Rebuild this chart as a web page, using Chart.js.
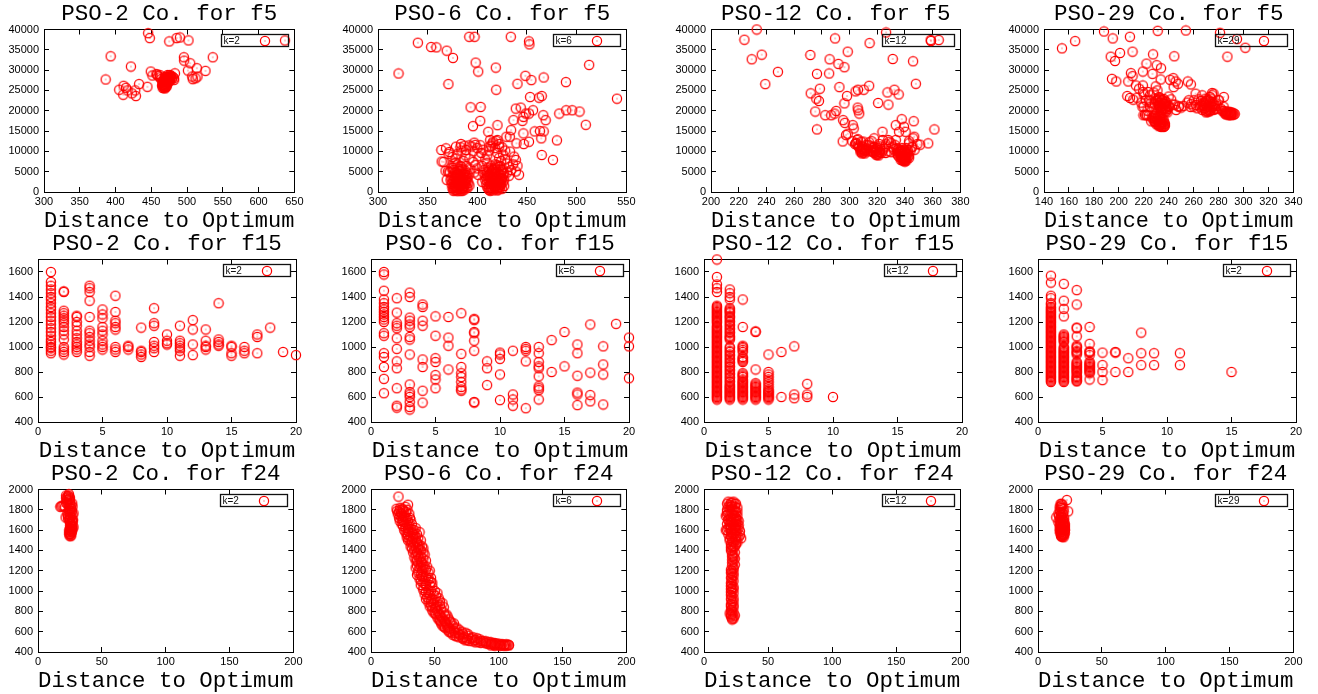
<!DOCTYPE html>
<html><head><meta charset="utf-8">
<script src="https://cdn.jsdelivr.net/npm/chart.js@4/dist/chart.umd.min.js"></script>
<style>
html,body{margin:0;padding:0;background:#fff;width:1318px;height:694px;overflow:hidden;position:relative}
.p{position:absolute}
</style></head><body>
<script>
// ---------- data: [distance to optimum, fitness] ----------
const f5_pso2 = [[445.6,39100],[447.9,37880],[475.2,37070],[485.4,37880],[490,38040],[502,37310],[637,37300],[393.2,33400],[536,33160],[386.2,27700],[421.5,30880],[495.6,33160],[496,32340],[504.4,31690],[513.7,30470],[501.2,29900],[525.8,29820],[449.3,29650],[451.6,28680],[457.2,29000],[462.3,28760],[477,28350],[481.7,28000],[507.2,28430],[511.9,28000],[508,27780],[514.6,28430],[405.2,25170],[411.3,26150],[414.6,25660],[416.8,25000],[410.8,23950],[422.8,24280],[428.4,23620],[433,26560],[444.6,25900],[427.5,25010],
[466,25600],[467,26000],[468,26400],[466,26800],[469,27200],[470,27600],[471,28000],[472,28400],[473,28800],[474,28200],[475,27800],[476,27400],[468,27000],[470,26600],[472,26200],[467,25800],[469,25500],[471,26900],[473,27300],[474,27700],[475,28500],[477,28100],[478,28600],[479,27900],[480,28300],[466,27300],[465,26200],[470,25800],[472,27000],[476,28800],[469,28300],[464,27800],[462,28200],[460,28600],[458,28900],[483,29200],[482,27600],
[467,26300],[468,25700],[469,26700],[470,27100],[471,27400],[472,27900],[473,28100],[474,27400],[470,26100],[468,26000],[466,26500],[467,27200],[469,27800],[471,28300],[473,27000],[475,27200],[476,28000],[477,28400],[471,25900],[469,26200]];

const f5_pso6 = [[320.7,29170],[340.1,36740],[353.5,35680],[358.8,35600],[369.2,34790],[375.5,33000],[370.9,26560],[391.9,38210],[397.2,38210],[433.7,38210],[452,37070],[452.4,36340],[398.3,31850],[400.9,29650],[418.6,30630],[393.2,20860],[403.3,20940],[402.9,17520],[395.6,16210],[419,25170],[440.4,26640],[448.4,28600],[454.4,27540],[466.8,28190],[489.2,27050],[512.6,31280],[540.6,22970],[453.1,23380],[462.1,23220],[464.8,23630],[456.1,20120],[452,19310],[466.4,18900],[468.8,17680],[438.7,20530],[443.7,20770],[448.7,19310],[446.4,18490],[436.4,17680],[445.4,17520],[420.3,16460],[411,14830],[429.3,13600],[434,15230],[432.7,13600],[439.4,11980],[446.4,14420],[452,12380],[457.7,14910],[463.1,14990],[464.4,13200],[466.8,14910],[446.7,11810],[489.5,20120],[495.5,20120],[502.9,19800],[482.5,19310],[509.2,16540],[480.1,12710],[464.8,9120],[476.1,7900],[420.3,12790],[415.3,11980],[422,11160],[412,11160],[433,9940],[437,8720],[438.7,7900],[440.4,6440],[438.7,5050],[442,4240],[363.8,10350],[368.5,10750],[364.1,7500],[371.9,9860],[378.5,11160],[383.6,11810],[391.9,11490],[396.9,12140],[388.6,10350],[369.2,3010],[370.3,5050],[375.2,5870],
[376,600],[378,1200],[380,1800],[382,2400],[384,3000],[386,3600],[388,4200],[379,500],[381,900],[383,1500],[385,2100],[387,2700],[377,3300],[379,3900],[381,4500],[383,5100],[385,5700],[375,1000],[374,2000],[376,2800],[378,3600],[380,4400],[382,5200],[384,800],[386,1400],[388,2000],[390,2600],[389,3400],[391,4000],[387,4800],[385,600],[383,300],[380,200],[377,1600],[375,4000],[373,3000],[372,5000],[390,1000],[392,1600],[384,6200],[380,6800],[378,7200],[382,3800],[379,2500],[381,3200],[383,2200],[385,1000],
[376,300],[377,900],[378,1500],[379,2100],[380,2700],[381,3300],[382,3900],[383,4500],[384,5100],[385,300],[386,900],[387,1500],[388,2400],[389,3000],[390,3600],[378,400],[380,1000],[382,1100],[384,1700],[386,2300],[388,2900],[377,2200],[379,2800],[381,2000],[383,2600],[385,3200],[387,3800],[379,4200],[381,5600],[383,6400],[376,5400],[378,4800],[380,3500],[382,1600],[384,2000],[386,4400],[388,5200],[390,4600],[374,3500],[375,2400],[376,1300],[377,4600],[389,1200],[391,2200],[387,600],[382,700],[380,2300],[384,4000],
[412,500],[414,1100],[416,1700],[418,2300],[420,2900],[422,3500],[424,4100],[413,300],[415,900],[417,1500],[419,2100],[421,2700],[423,3300],[411,3900],[413,4500],[415,5100],[417,5700],[410,1200],[409,2000],[408,3000],[410,4000],[412,2600],[414,3200],[416,3800],[418,4400],[420,5000],[422,1200],[424,1800],[426,2400],[425,3200],[427,4600],[421,600],[419,800],[416,400],[411,6000],[414,6500],[418,6800],[421,6200],[424,5600],[406,4800],[405,2500],[420,1800],[417,2900],[415,3600],[413,2000],[419,3700],[423,900],
[412,1300],[413,1900],[414,2500],[415,3100],[416,3700],[417,4300],[418,4900],[419,5500],[420,400],[421,1000],[422,1600],[423,2200],[424,2800],[425,3400],[426,4000],[411,800],[410,2600],[409,3500],[410,5000],[412,4200],[414,4800],[416,5400],[418,6000],[420,6600],[422,4500],[424,5000],[426,5500],[423,6400],[413,3600],[415,2300],[417,1200],[419,1500],[421,2200],[423,1800],[425,800],[427,1500],[427,3000],[414,700],[416,2700],[418,3200],[420,3800],[422,2600],[418,1000],[415,5800],[412,5500],[408,4000],
[368,5200],[372,4800],[374,6000],[376,7000],[378,8200],[380,9400],[384,10200],[388,9000],[392,8200],[396,7400],[398,6600],[400,5800],[402,8800],[404,9600],[406,10400],[408,8000],[410,7200],[396,10000],[394,11200],[398,11600],[400,10800],[403,11500],[386,7600],[389,6400],[393,5600],[397,4800],[401,4200],[405,6400],[407,5400],[410,9000],[412,10200],[414,11400],[416,12400],[418,10800],[420,9600],[422,8400],[424,7600],[426,9200],[428,8000],[430,7000],[432,6200],[430,4800],[432,4000],[434,5400],[436,6800],[428,10200],[425,11000],[419,12600],[413,12800],[422,11800],[375,8600],[371,9400],[366,7400],[383,11000],[387,11400]];

const f5_pso12 = [[224.1,37480],[233,40000],[229.4,32670],[236.6,33810],[239.2,26560],[248.3,29570],[271.7,33730],[272,24280],[278.6,25420],[276.5,29080],[285.3,29170],[285.6,32670],[289.6,37800],[292,31530],[292.7,25830],[296.3,30710],[298.7,34540],[298.2,23630],[276,22970],[277.9,22400],[275.3,19800],[276.5,15400],[282.5,18900],[286.8,18900],[289.2,19310],[290.4,19960],[296.3,21830],[295.4,17680],[296.6,17030],[295.1,12460],[297.5,14010],[298.7,14340],[302.3,16460],[303,15640],[304.4,24770],[306.1,25170],[306.3,20120],[307,19310],[305.9,20770],[310.2,25170],[314.2,26150],[314.5,36660],[326.4,39270],[331.2,32750],[332.4,25170],[327.4,24520],[328.1,21510],[320.7,21910],[335.5,24030],[345.9,32180],[347.9,26640],[346.3,17430],[337.7,17920],[333.4,16460],[339.3,16050],[335.8,14830],[340.5,14830],[346.7,13600],[351,11650],[356.8,11980],[361.3,15400],[323.8,14830],[317.8,13200],[305.6,12790],[308.3,12380],[314.2,12220],[316.6,11160],[321.4,11810],[326.2,11730],[328.6,12380],[331,11160],[333.4,12790],[345.3,11160],[342.9,11980],[307,11160],[310.7,10750],[304.7,11980],[364.4,37400],[358.6,37400],
[307,11000],[308,10500],[309,10000],[310,9700],[311,10200],[312,10700],[309,11200],[310,10400],[308,9800],[311,9500],[313,10000],[306,11400],[312,11600],[305,12000],[310,12400],
[308,10200],[309,10600],[310,11000],[311,10000],[309,9500],[312,10300],[318,9600],[319,10100],[320,10400],[321,9500],[320,9100],[317,9900],[322,9800],[319,10600],
[317,10800],[318,10300],[319,9800],[320,9400],[321,9900],[322,10400],[318,11100],[320,10800],[319,9200],[321,9000],[323,9600],[316,10000],[322,11200],[324,10200],
[336,10500],[337,10000],[338,9500],[339,9000],[340,8500],[341,8000],[339,7600],[338,8200],[337,8800],[336,9400],[340,9800],[341,9200],[342,8600],[343,9000],[338,10800],[339,10300],[335,9900],[334,10800],[340,7800],[342,9800],[344,10200],[341,10800],[338,7900],[336,8600],[339,8400],
[335,9000],[336,9800],[337,9300],[338,8800],[339,8100],[340,9100],[341,8600],[342,9400],[337,10300],[338,10100],[339,9700],[340,10200],[341,9600],[339,8700],[340,8000],[338,8500],[337,7900],[336,10000],[342,10300],[343,8400],[335,10400],[334,9500],[341,7700],[340,7500],[339,7800],
[302,12500],[304,11800],[306,13000],[314,11500],[316,12500],[324,12800],[326,11200],[328,10000],[330,9800],[332,10500],[330,12000],[333,11500],[326,9600],[328,12800],[345,11000],[347,10400],[349,11800],[343,12500],[346,13200]];

const f5_pso29 = [[154.4,35360],[165,37150],[188.1,39510],[195.1,37800],[208.9,38210],[231.2,39680],[253.8,39760],[281.2,39190],[294.8,37640],[301.5,35520],[287.1,33320],[193.5,33320],[197,32260],[201,34220],[211,34540],[227.5,33890],[244.5,33400],[222.2,31610],[230.4,31200],[233.9,30470],[219.3,29650],[209.7,29250],[211,28510],[227,29080],[194.5,27860],[198,27210],[207.6,27210],[233.6,27700],[241.1,27620],[243.7,28020],[245.6,27210],[247.5,26640],[244,25830],[255.4,27210],[257.8,26480],[213.7,26230],[216.3,25420],[219.3,26230],[229.6,25990],[206.8,23630],[209,23140],[211.6,22730],[214.5,23220],[219.5,24600],[223.5,24600],[221.7,22570],[219,20940],[219.8,18900],[222.5,18900],[224.3,22570],[229.6,22970],[232.3,23380],[234.9,22570],[237.6,21750],[240.3,21100],[243.7,21510],[248.3,21100],[257.6,20940],[260.2,22570],[261.6,24200],[266.9,23790],[269.5,22970],[274.9,24360],[284.2,23380],[280.2,22570],[256.2,22570],
[228,17500],[229,18000],[230,17200],[231,16800],[232,17600],[233,16400],[234,16900],[235,16200],[236,16600],[237,16300],[233,17900],[231,18300],[229,18800],[227,18200],[226,17400],[235,17300],[236,17700],[234,18400],[232,18700],[230,19200],[224,18800],[222,19000],[234,16000],[236,16000],
[229,17200],[230,16700],[231,17500],[232,16500],[233,17100],[234,16500],[235,16800],[236,16200],[237,16800],[235,17900],[233,18600],[231,17900],[232,16200],[234,17300],[236,17200],[230,18300],[228,18600],
[231,21000],[232,21500],[233,22000],[234,22500],[235,21800],[236,21200],[237,20600],[238,20000],[239,20400],[237,21600],[235,20200],[233,20700],[240,21000],[238,22200],[236,22900],[232,23200],[230,22400],[229,21600],[228,20800],[234,19600],[239,19600],[226,22000],[225,21000],
[232,22000],[233,21300],[234,21000],[235,20700],[236,20400],[237,20100],[238,20800],[239,21200],[236,21700],[234,20200],[237,22300],[235,22700],[238,19800],[231,22700],[233,23000],
[265,21000],[267,21500],[269,22000],[271,21000],[272,20200],[273,20800],[274,21600],[275,22200],[276,21200],[277,20600],[270,20000],[268,20600],[266,22400],[271,22800],[273,23400],[275,23800],[278,21800],[280,22600],[262,21400],[264,22800],[270,19600],[272,19800],[278,20400],[279,21200],[276,24200],
[266,21300],[268,21200],[269,20600],[270,21500],[271,20500],[272,21300],[273,22100],[274,20300],[275,20900],[276,21700],[277,21300],[270,22400],[268,22000],[272,22600],[274,23000],[267,20200],[271,19800],[273,19900],[276,20200],
[285,19600],[286,19400],[287,19200],[288,19500],[289,19000],[290,19300],[291,19100],[292,19400],[289,19700],[287,19800],[284,19900],[290,18900],[293,19200],[288,18900],[283,20000],
[286,19800],[287,19500],[288,19200],[289,19400],[290,19600],[291,19500],[292,19000],[286,19100],[285,19300],
[245,21500],[248,21000],[250,20800],[252,21200],[255,22000],[258,21600],[260,21000],[263,20600],[282,20500],[284,21000],[240,23500],[242,22800],[246,20200],[218,22000],[220,21000],[221,19000],[223,20000],[225,23800],[228,24500],[231,25000],[220,24000]];

const f15_pso2 = [[1,1600],[1,1520],[1,1490],[1,1460],[1,1430],[1,1400],[1,1380],[1,1350],[1,1320],[1,1300],[1,1270],[1,1240],[1,1210],[1,1180],[1,1150],[1,1120],[1,1090],[1,1060],[1,1040],[1,1020],[1,1000],[1,990],[1,970],[1,950],
[2,1445],[2,1440],[2,1290],[2,1270],[2,1250],[2,1230],[2,1210],[2,1190],[2,1160],[2,1130],[2,1100],[2,1060],[2,1000],[2,980],[2,960],[2,940],
[3,1250],[3,1240],[3,1200],[3,1170],[3,1130],[3,1100],[3,1070],[3,1040],[3,1020],[3,1000],[3,980],[3,960],
[4,1490],[4,1470],[4,1440],[4,1370],[4,1240],[4,1130],[4,1110],[4,1080],[4,1050],[4,1020],[4,1000],[4,960],[4,930],
[5,1300],[5,1260],[5,1230],[5,1160],[5,1130],[5,1100],[5,1050],[5,1020],[5,1000],[5,980],
[6,1410],[6,1280],[6,1210],[6,1190],[6,1160],[6,1140],[6,1000],[6,980],[6,960],
[7,1010],[7,1000],[7,980],[8,1155],[8,970],[8,960],[8,940],[8,920],
[9,1310],[9,1190],[9,1170],[9,1040],[9,1010],[9,990],[9,960],
[10,1100],[10,1050],[10,1030],[10,1020],
[11,1170],[11,1050],[11,1030],[11,1010],[11,990],[11,970],[11,930],
[12,1215],[12,1140],[12,1020],[12,935],[13,1140],[13,1050],[13,1010],[13,1000],[13,980],
[14,1350],[14,1060],[14,1040],[14,1020],[14,1010],[15,1010],[15,1000],[15,950],[15,930],
[16,1000],[16,970],[16,950],[17,1100],[17,1080],[17,950],[18,1155],[19,960],[20,935]];

const f15_pso6 = [[1,1600],[1,1580],[1,1450],[1,1380],[1,1350],[1,1320],[1,1300],[1,1280],[1,1260],[1,1240],[1,1220],[1,1200],[1,1110],[1,1090],[1,950],[1,920],[1,840],[1,745],[1,630],
[2,1390],[2,1275],[2,1190],[2,1170],[2,1150],[2,1070],[2,985],[2,885],[2,830],[2,670],[2,530],[2,515],
[3,1435],[3,1400],[3,1235],[3,1210],[3,1180],[3,1160],[3,1080],[3,1060],[3,940],[3,700],[3,640],[3,620],[3,600],[3,560],[3,520],[3,500],
[4,1340],[4,1320],[4,1210],[4,1170],[4,900],[4,840],[4,650],[4,555],
[5,1245],[5,1090],[5,910],[5,880],[5,775],[5,740],[5,670],
[6,1240],[6,1075],[6,1010],[6,820],
[7,1270],[7,945],[7,840],[7,790],[7,760],[7,720],[7,680],[7,660],[7,650],
[8,1225],[8,1215],[8,1120],[8,1110],[8,1050],[8,970],[8,560],[8,555],
[9,885],[9,830],[9,695],[10,955],[10,940],[10,905],[10,780],[10,575],
[11,970],[11,620],[11,580],[11,530],[12,1000],[12,985],[12,970],[12,885],[12,510],
[13,1000],[13,950],[13,880],[13,845],[13,830],[13,765],[13,685],[13,670],[13,655],[13,580],
[14,1055],[14,800],[15,1120],[15,845],[16,1020],[16,950],[16,770],[16,635],[16,620],[16,535],
[17,1180],[17,795],[17,615],[17,565],[18,1005],[18,860],[18,780],[18,540],[19,1185],[20,1075],[20,1005],[20,750]];

const f15_pso12 = [[1,1700],[1,1560],[1,1500],[1,1470],[1,1440],[1,1330],[1,1310],[1,1290],[1,1270],[1,1250],[1,1220],[1,1200],[1,1170],[1,1150],[1,1120],[1,1100],[1,1070],[1,1040],[1,1010],[1,990],[1,960],[1,940],[1,910],[1,880],[1,860],[1,830],[1,810],[1,790],[1,760],[1,740],[1,720],[1,700],[1,680],[1,660],[1,640],[1,620],[1,600],[1,590],[1,580],
[1,1320],[1,1300],[1,1280],[1,1260],[1,1240],[1,1230],[1,1210],[1,1190],[1,1160],[1,1140],[1,1130],[1,1110],[1,1090],[1,1080],[1,1060],[1,1050],[1,1030],[1,1020],[1,1000],[1,980],[1,970],[1,950],[1,930],[1,920],[1,900],[1,890],[1,870],[1,850],[1,840],[1,820],[1,800],[1,780],[1,770],[1,750],[1,730],[1,710],[1,690],[1,670],[1,650],[1,630],[1,610],
[2,1460],[2,1430],[2,1400],[2,1380],[2,1310],[2,1290],[2,1270],[2,1240],[2,1210],[2,1180],[2,1150],[2,1120],[2,1090],[2,1060],[2,1000],[2,970],[2,940],[2,910],[2,880],[2,850],[2,820],[2,790],[2,760],[2,730],[2,700],[2,680],[2,660],[2,640],[2,620],[2,600],[2,580],
[2,1300],[2,1280],[2,1250],[2,1230],[2,1200],[2,1170],[2,1140],[2,1110],[2,1080],[2,1070],[2,990],[2,960],[2,930],[2,900],[2,870],[2,840],[2,810],[2,780],[2,750],[2,720],[2,690],[2,670],[2,650],[2,630],[2,610],[2,590],
[3,1380],[3,1160],[3,1010],[3,990],[3,960],[3,920],[3,900],[3,880],[3,790],[3,770],[3,740],[3,710],[3,690],[3,670],[3,650],[3,630],[3,610],[3,590],[3,580],
[3,1000],[3,975],[3,910],[3,890],[3,780],[3,760],[3,730],[3,720],[3,700],[3,680],[3,660],[3,640],[3,620],[3,600],
[4,1125],[4,1120],[4,820],[4,710],[4,690],[4,670],[4,650],[4,630],[4,610],[4,590],[4,580],[4,700],[4,680],[4,660],[4,640],[4,620],[4,600],
[5,940],[5,800],[5,760],[5,700],[5,660],[5,640],[5,620],[5,600],[5,590],[5,580],[5,780],[5,740],[5,720],[5,680],[5,650],[5,630],[5,610],
[6,960],[6,600],[7,1005],[7,620],[7,590],[8,705],[8,620],[8,600],[10,600]];

const f15_pso29 = [[1,1570],[1,1515],[1,1410],[1,1390],[1,1350],[1,1320],[1,1300],[1,1280],[1,1250],[1,1230],[1,1200],[1,1180],[1,1150],[1,1120],[1,1100],[1,1080],[1,1050],[1,1020],[1,1000],[1,980],[1,960],[1,940],[1,920],[1,900],[1,880],[1,860],[1,840],[1,820],[1,800],[1,780],[1,760],[1,740],[1,720],
[1,1340],[1,1310],[1,1290],[1,1270],[1,1260],[1,1240],[1,1220],[1,1210],[1,1190],[1,1170],[1,1160],[1,1140],[1,1130],[1,1110],[1,1090],[1,1070],[1,1060],[1,1040],[1,1030],[1,1010],[1,990],[1,970],[1,950],[1,930],[1,910],[1,890],[1,870],[1,850],[1,830],[1,810],[1,790],[1,770],[1,750],[1,730],
[2,1505],[2,1370],[2,1305],[2,1245],[2,1100],[2,1080],[2,1060],[2,1040],[2,1000],[2,980],[2,960],[2,940],[2,920],[2,900],[2,880],[2,860],[2,840],[2,820],[2,800],[2,780],[2,760],[2,740],[2,720],
[2,1090],[2,1070],[2,1050],[2,990],[2,970],[2,950],[2,930],[2,910],[2,890],[2,870],[2,850],[2,830],[2,810],[2,790],[2,770],[2,750],[2,730],
[3,1455],[3,1340],[3,1155],[3,1150],[3,1085],[3,1010],[3,990],[3,960],[3,940],[3,880],[3,860],[3,840],[3,820],[3,800],[3,760],[3,740],[3,725],
[3,1000],[3,970],[3,950],[3,870],[3,850],[3,830],[3,810],[3,790],[3,770],[3,750],[3,730],
[4,1160],[4,1025],[4,965],[4,955],[4,935],[4,880],[4,860],[4,840],[4,820],[4,800],[4,790],[4,740],[4,960],[4,870],[4,850],[4,830],[4,810],
[5,955],[5,855],[5,800],[5,735],[6,960],[6,955],[6,800],[7,910],[7,800],[8,1115],[8,950],[8,855],[9,950],[9,855],[11,950],[11,855],[15,800]];

const f24_pso2 = [[18.2,1834],[17.5,1830],[19,1840],[23.4,1938],[24.2,1954],[22,1915],[23,1925],[24,1940],[25,1920],[26.8,1863],[26,1808],[25,1790],[27.8,1765],[27,1750],[24.7,1726],[23.5,1720],[26.8,1687],[26,1670],[25.2,1645],[27.8,1629],[26.5,1615],[26,1590],[25.5,1575],[24.7,1547],[25.5,1563],[26.8,1612],[23.4,1743],[21.6,1726],[25,1680],[27,1650],[26,1600],[24.5,1560],[25.5,1540],[26.5,1640],[27.5,1700],[26,1770],[24,1850],[22.5,1900],
[20,1840],[21,1830],[22,1870],[23,1880],[24,1900],[25,1890],[26,1850],[27,1830],[25,1860],[23,1860],[22,1940],[24.5,1910],[25.5,1820],[26.5,1790],[24,1780],[23,1760],[25,1750],[26,1730],[24,1700],[25,1710],[26.5,1700],[27,1680],[25.5,1660],[26,1630],[27,1610],[25,1620],[24.5,1600],[25.5,1590],[26.5,1580],[25,1560],[24.5,1580],[26,1550],[25.5,1610]];

const f24_pso6 = [[21.5,1930],[20,1810],[22,1780],[23,1820],[25,1800],[27,1830],[29,1850],[24,1760],[26,1740],[22,1720],[25,1700],[28,1720],[30,1760],[31,1700],[24,1660],[27,1650],[29,1620],[32,1660],[33,1600],[26,1600],[28,1560],[30,1580],[34,1550],[36,1560],[38,1580],[29,1500],[31,1480],[33,1520],[35,1490],[37,1460],[39,1500],[40,1440],[32,1420],[34,1400],[36,1380],[38,1410],[41,1380],[42,1360],[34,1330],[36,1300],[38,1320],[40,1280],[43,1300],[35,1230],[37,1200],[39,1250],[41,1220],[44,1240],[46,1200],[36,1160],[38,1120],[40,1140],[42,1100],[45,1130],[47,1090],[39,1060],[41,1030],[43,1050],[45,1010],[48,1040],[50,1000],[42,970],[44,940],[46,960],[48,920],[51,950],[53,930],[45,890],[47,860],[49,880],[51,840],[54,860],[56,880],[48,810],[50,780],[52,800],[54,760],[57,790],[59,770],[52,740],[54,710],[56,730],[58,700],[61,720],[63,690],[55,680],[57,650],[59,670],[61,640],[64,660],[67,640],[60,620],[62,600],[65,610],[68,590],[71,600],[74,590],[64,570],[67,555],[70,565],[73,550],[76,560],[80,545],[72,530],[75,520],[78,530],[82,520],[85,525],[88,510],[80,505],[84,500],[88,495],[92,500],[95,490],[90,485],[94,480],[98,482],[100,475],[103,478],[105,470],[107,472],[99,468],[102,465],[96,470],[108,465],[104,462],
[20.5,1790],[21,1760],[22.5,1800],[23.5,1770],[24.5,1810],[26,1790],[27.5,1780],[28.5,1800],[23,1740],[25.5,1730],[27,1700],[29,1690],[30.5,1720],[22.5,1690],[24,1700],[26,1680],[28,1660],[30,1650],[25,1640],[27,1620],[29,1590],[31,1610],[32,1580],[34,1600],[35,1620],[27,1580],[29,1550],[31,1540],[33,1560],[35,1530],[37,1520],[28,1530],[30,1510],[32,1490],[34,1470],[36,1480],[38,1450],[31,1440],[33,1450],[35,1430],[37,1420],[39,1400],[41,1420],[33,1380],[35,1360],[37,1350],[39,1340],[41,1320],[35,1300],[37,1280],[39,1290],[41,1260],[42,1240],[36,1250],[38,1230],[40,1200],[43,1210],[45,1180],[37,1180],[39,1160],[41,1150],[43,1140],[45,1110],[47,1130],[39,1100],[41,1080],[43,1070],[46,1060],[48,1080],[41,1010],[43,990],[45,980],[47,1000],[49,970],[52,980],[43,920],[45,920],[47,900],[49,910],[52,890],[54,900],[46,850],[48,840],[50,830],[52,850],[55,820],[57,840],[49,790],[51,770],[53,780],[55,750],[58,760],[60,750],[53,720],[55,700],[57,710],[59,690],[62,700],[65,680],[56,660],[58,640],[60,650],[62,630],[66,630],[69,620],[61,600],[63,590],[66,590],[69,575],[72,580],[76,575],[66,560],[69,545],[72,540],[75,535],[79,540],[83,535],[74,515],[77,510],[81,515],[86,510],[90,505],[82,495],[86,490],[90,492],[94,495],[97,488],[92,478],[96,478],[100,482],[102,472],[106,476],[108,470],[101,462],[104,468],[106,462],[97,462],[94,465]];

const f24_pso12 = [[18,1800],[20,1850],[22,1870],[24,1860],[21,1830],[23,1800],[25,1780],[19,1760],[17,1740],[21,1720],[24,1700],[26,1740],[27,1650],[28,1550],[22,1680],[20,1650],[18,1600],[23,1620],[25,1600],[21,1580],[24,1560],[26,1540],[22,1520],[25,1500],[23,1480],[21,1460],[24,1440],[22,1400],[23,1350],[24,1320],[22,1280],[23,1230],[22,1200],[21,1180],[23,1150],[22,1110],[21,1080],[23,1040],[22,1000],[21,960],[23,930],[22,900],[21,870],[23,840],[22,800],[21,770],[23,750],[22,730],[21,1020],[22,1340],[20,1500],[19,1700],[26,1660],[25,1680],[20,1620],[18,1780],[23,1750],[22,1560],[24,1600],[21,1620],
[18,1860],[19,1880],[21,1870],[23,1880],[25,1860],[19,1830],[22,1840],[24,1830],[26,1820],[20,1800],[22,1810],[24,1790],[26,1780],[18,1750],[20,1740],[22,1760],[24,1740],[25,1720],[19,1700],[21,1690],[23,1700],[25,1710],[26,1700],[27,1690],[17,1600],[19,1620],[21,1640],[23,1660],[25,1640],[27,1620],[18,1660],[20,1680],[22,1600],[24,1620],[26,1600],[28,1590],[19,1560],[21,1540],[23,1560],[25,1540],[27,1530],[29,1520],[20,1520],[22,1490],[24,1510],[26,1480],[21,1430],[23,1440],[25,1460],[22,1440],[23,1420],[21,1400],[24,1380],[22,1360],[23,1330],[22,1310],[23,1290],[24,1260],[22,1250],[23,1220],[21,1210],[22,1170],[23,1180],[22,1140],[21,1130],[23,1100],[22,1070],[21,1050],[23,1020],[22,1030],[21,990],[23,980],[22,950],[21,920],[23,900],[22,880],[21,850],[23,860],[22,830],[21,810],[23,790],[22,770],[21,750],[23,730],[22,720],[24,760],[20,780]];

const f24_pso29 = [[22.6,1896],[23.6,1785],[17.7,1857],[14.3,1726],[18,1840],[19,1820],[17,1800],[16,1760],[18,1750],[20,1780],[19,1720],[17,1700],[18,1680],[20,1700],[21,1660],[17,1650],[19,1640],[20,1620],[18,1610],[21,1600],[17,1590],[19,1580],[20,1560],[18,1550],[19,1540],[21,1570],[20,1530],[17,1620],[16,1680],[18,1660],[20,1650],[19,1600],[21,1620],[18,1580],
[17,1830],[18,1820],[19,1850],[18.5,1860],[20,1810],[17.5,1780],[18.5,1770],[19.5,1760],[16.5,1740],[17.5,1720],[18.5,1730],[19.5,1700],[20.5,1720],[17.5,1680],[18.5,1690],[19.5,1670],[20.5,1680],[17.5,1640],[18.5,1630],[19.5,1650],[20.5,1640],[17.5,1600],[18.5,1600],[19.5,1610],[20.5,1590],[17.5,1570],[18.5,1560],[19.5,1550],[20.5,1550],[19,1535],[18,1540],[21,1600],[21,1640]];

// titles, key labels and axis ranges [min, max, step]
const titles = ['PSO-2 Co. for f5','PSO-6 Co. for f5','PSO-12 Co. for f5','PSO-29 Co. for f5',
  'PSO-2 Co. for f15','PSO-6 Co. for f15','PSO-12 Co. for f15','PSO-29 Co. for f15',
  'PSO-2 Co. for f24','PSO-6 Co. for f24','PSO-12 Co. for f24','PSO-29 Co. for f24'];
const keyLabels = ['k=2','k=6','k=12','k=29','k=2','k=6','k=12','k=2','k=2','k=6','k=12','k=29'];
const series = [f5_pso2,f5_pso6,f5_pso12,f5_pso29,f15_pso2,f15_pso6,f15_pso12,f15_pso29,f24_pso2,f24_pso6,f24_pso12,f24_pso29];
const xRanges = [[300,650,50],[300,550,50],[200,380,20],[140,340,20],[0,20,5],[0,20,5],[0,20,5],[0,20,5],[0,200,50],[0,200,50],[0,200,50],[0,200,50]];
const yRanges = [[0,40000,5000],[0,40000,5000],[0,40000,5000],[0,40000,5000],[400,1700,200],[400,1700,200],[400,1700,200],[400,1700,200],[400,2000,200],[400,2000,200],[400,2000,200],[400,2000,200]];
const xTitle = 'Distance to Optimum';

// ---------- layout (page pixels of each plot frame: left, top, right, bottom) ----------
const frames = [[44,29,296,192],[378,29,628,192],[711,29,962,192],[1044,29,1295,192],
  [38,259,296,422],[371,259,629,422],[704,259,962,422],[1038,259,1296,422],
  [38,489,295,652],[371,489,628,652],[704,489,962,652],[1038,489,1295,652]];

const MONO = '"Liberation Mono","Courier New",monospace';
const SANS = '"Liberation Sans",Arial,sans-serif';

// circle marker with a centre dot (gnuplot style)
const marker = document.createElement('canvas');
marker.width = 12; marker.height = 12;
(function(){const c = marker.getContext('2d');
  c.strokeStyle = '#ff0000'; c.lineWidth = 1.25; c.beginPath(); c.arc(6,6,4.6,0,Math.PI*2); c.stroke();
  c.fillStyle = 'rgba(255,0,0,0.9)'; c.fillRect(5.5,5.5,1,1);})();

const keyPlugin = {
  id: 'gkey',
  afterDatasetsDraw(chart) {
    const ds = chart.data.datasets[0];
    const {ctx, chartArea: a} = chart;
    ctx.save();
    ctx.font = '10px ' + SANS;
    const tw = ctx.measureText(ds.label).width;
    const w = Math.round(tw + 50.5), h = 12;
    const x = Math.round(a.right - 6.5 - w) + 0.5, y = Math.round(a.top + 4) + 0.5;
    ctx.strokeStyle = '#111'; ctx.lineWidth = 1.3;
    ctx.strokeRect(x, y, w, h);
    ctx.fillStyle = '#111'; ctx.textBaseline = 'middle'; ctx.textAlign = 'left';
    ctx.fillText(ds.label, x + 2, y + h / 2 + 0.5);
    ctx.drawImage(marker, Math.round(x + w - 24 - 6), Math.round(y + h / 2 - 6));
    ctx.restore();
  }
};

const PAD_L = 50, PAD_T = 30, PAD_R = 16, PAD_B = 44;

series.forEach((pts, i) => {
  const [L, T, R, B] = frames[i];
  const W = R - L + PAD_L + PAD_R, H = B - T + PAD_T + PAD_B;
  const div = document.createElement('div');
  div.className = 'p';
  div.style.left = (L - PAD_L) + 'px'; div.style.top = (T - PAD_T) + 'px';
  div.style.width = W + 'px'; div.style.height = H + 'px';
  const cv = document.createElement('canvas');
  cv.width = W; cv.height = H; cv.style.width = W + 'px'; cv.style.height = H + 'px';
  div.appendChild(cv); document.body.appendChild(div);
  const [xmin, xmax, xstep] = xRanges[i];
  const [ymin, ymax, ystep] = yRanges[i];
  const tickFont = {family: SANS, size: 11};
  const gridOpt = {drawOnChartArea: false, drawTicks: true, tickLength: -5, color: '#000', tickColor: '#000', lineWidth: 1};
  const borderOpt = {display: true, color: '#000', width: 1};
  new Chart(cv, {
    type: 'scatter',
    data: {datasets: [{label: keyLabels[i], data: pts.map(([x, y]) => ({x, y})),
      pointStyle: marker, pointRadius: 5, pointHoverRadius: 5, clip: false, showLine: false}]},
    options: {
      responsive: false, animation: false, events: [],
      layout: {padding: {left: 0, top: 0, right: PAD_R, bottom: 0}},
      plugins: {
        legend: {display: false}, tooltip: {enabled: false},
        title: {display: true, text: titles[i], fullSize: false, align: 'center', color: '#000',
          font: {family: MONO, size: 22.5, weight: 'normal', lineHeight: 1}, padding: {top: 4, bottom: 4}}
      },
      scales: {
        x: {type: 'linear', position: 'bottom', min: xmin, max: xmax,
          ticks: {stepSize: xstep, includeBounds: false, autoSkip: false, maxRotation: 0, padding: 8.5, font: tickFont, color: '#000', callback: v => String(v)},
          grid: gridOpt, border: borderOpt,
          title: {display: true, text: xTitle, color: '#000', font: {family: MONO, size: 22.5, lineHeight: 1}, padding: {top: 0, bottom: 4}},
          afterFit: s => { s.height = PAD_B; }},
        y: {type: 'linear', position: 'left', min: ymin, max: ymax,
          ticks: {stepSize: ystep, includeBounds: false, autoSkip: false, padding: 10, font: tickFont, color: '#000', callback: v => String(v)},
          grid: gridOpt, border: borderOpt,
          afterFit: s => { s.width = PAD_L; }},
        x2: {type: 'linear', axis: 'x', position: 'top', min: xmin, max: xmax,
          ticks: {display: false, stepSize: xstep, includeBounds: false},
          grid: gridOpt, border: borderOpt, afterFit: s => { s.height = 0; }},
        y2: {type: 'linear', axis: 'y', position: 'right', min: ymin, max: ymax,
          ticks: {display: false, stepSize: ystep, includeBounds: false},
          grid: gridOpt, border: borderOpt, afterFit: s => { s.width = 0; }}
      }
    },
    plugins: [keyPlugin]
  });
});
</script>
</body></html>
